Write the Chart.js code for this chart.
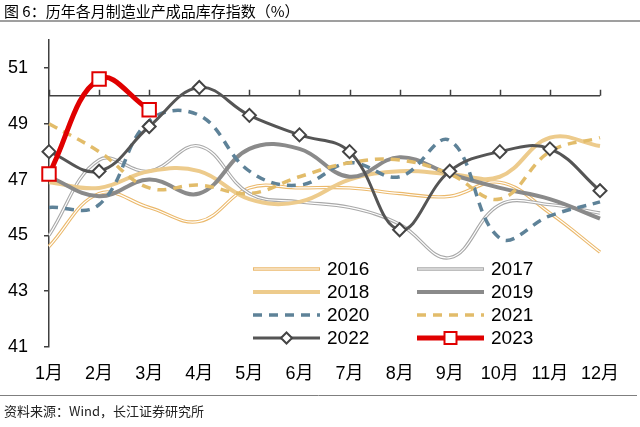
<!DOCTYPE html>
<html lang="zh-CN">
<head>
<meta charset="utf-8">
<script src="https://cdn.jsdelivr.net/npm/chart.js@4.4.0/dist/chart.umd.min.js"></script>
<style>
  html, body { margin: 0; padding: 0; background: #fff; }
  #wrap { width: 640px; height: 427px; }
</style>
</head>
<body>
<div id="wrap"><canvas id="estoqueChart" width="640" height="427"></canvas></div>
<script>
// dados
const meses = ['1月', '2月', '3月', '4月', '5月', '6月', '7月', '8月', '9月', '10月', '11月', '12月'];
const ticksY = [41, 43, 45, 47, 49, 51];
const anos = ['2016', '2017', '2018', '2019', '2020', '2021', '2022', '2023'];
const v2016 = [44.6, 46.5, 46.0, 45.5, 46.7, 46.7, 46.7, 46.5, 46.4, 46.9, 45.8, 44.4];
const v2017 = [45.0, 47.7, 47.3, 48.2, 46.5, 46.2, 46.0, 45.4, 44.2, 46.1, 46.1, 45.8];
const v2018 = [46.9, 46.7, 47.3, 47.3, 46.3, 46.2, 47.0, 47.3, 47.2, 47.1, 48.5, 48.2];
const v2019 = [47.1, 46.4, 47.0, 46.5, 48.1, 48.1, 47.1, 47.8, 47.2, 46.7, 46.3, 45.6];
const v2020 = [46.0, 46.1, 49.1, 49.3, 47.3, 46.8, 47.6, 47.1, 48.4, 44.9, 45.7, 46.2];
const v2021 = [49.0, 48.0, 46.7, 46.8, 46.5, 47.1, 47.6, 47.7, 47.2, 46.3, 48.0, 48.5];
const v2022 = [48.0, 47.3, 48.9, 50.3, 49.3, 48.6, 48.0, 45.2, 47.3, 48.0, 48.1, 46.6];
const v2023 = [47.2, 50.6, 49.5];
const series = [v2016, v2017, v2018, v2019, v2020, v2021, v2022, v2023];

const titulo = '图 6：历年各月制造业产成品库存指数（%）';
const fonte = '资料来源：Wind，长江证券研究所';
const FONT = "'Liberation Sans', 'Noto Sans CJK SC', sans-serif";

// estilo de cada ano (linha dupla = contorno + miolo branco)
const estilos = [
  { cor: '#EBB96C', larg: 3.4, duplo: true },
  { cor: '#A9A9A9', larg: 3.4, duplo: true },
  { cor: '#EDCB8C', larg: 4 },
  { cor: '#8A8A8A', larg: 4 },
  { cor: '#5E8298', larg: 3.5, tracejado: [9, 7] },
  { cor: '#E2BC6A', larg: 3.5, tracejado: [9, 7] },
  { cor: '#555555', larg: 3, ponto: 'rectRot', raio: 6.5, bordaPonto: '#444444' },
  { cor: '#E00000', larg: 5, ponto: 'rect', raio: 9.5, bordaPonto: '#E00000' }
];

// monta os datasets (ano mais recente por cima)
const datasets = [];
series.forEach((dados, i) => {
  const e = estilos[i];
  datasets.push({
    label: anos[i],
    data: dados,
    borderColor: e.cor,
    borderWidth: e.larg,
    borderDash: e.tracejado || [],
    tension: 0.4,
    pointStyle: e.ponto || 'circle',
    pointRadius: e.ponto ? e.raio : 0,
    pointBackgroundColor: '#fff',
    pointBorderColor: e.bordaPonto,
    pointBorderWidth: 2,
    fill: false
  });
  if (e.duplo) {
    datasets.push({
      label: anos[i] + '_miolo',
      data: dados,
      borderColor: '#ffffff',
      borderWidth: 1.2,
      tension: 0.4,
      pointRadius: 0,
      fill: false
    });
  }
});
datasets.forEach((d, i) => { d.order = datasets.length - i; });

// eixo horizontal no valor 50, título, fonte e legenda
const extras = {
  id: 'extras',
  beforeDatasetsDraw(chart) {
    const { ctx, scales: { x, y } } = chart;
    const y50 = y.getPixelForValue(50);
    ctx.save();
    ctx.strokeStyle = '#404040';
    ctx.lineWidth = 1.5;
    ctx.beginPath();
    ctx.moveTo(x.left, y50);
    ctx.lineTo(x.right, y50);
    meses.forEach((m, i) => {
      const px = Math.round(x.getPixelForValue(i)) + 0.5;
      ctx.moveTo(px, y50);
      ctx.lineTo(px, y50 - 6);
    });
    ctx.stroke();
    ctx.restore();
  },
  afterDraw(chart) {
    const { ctx } = chart;
    ctx.save();
    // título
    ctx.fillStyle = '#000';
    ctx.font = "15px 'Noto Sans CJK SC', sans-serif";
    ctx.textBaseline = 'middle';
    ctx.fillText(titulo, 4, 11);
    ctx.strokeStyle = '#7f7f7f';
    ctx.lineWidth = 1.5;
    ctx.beginPath(); ctx.moveTo(0, 21); ctx.lineTo(640, 21); ctx.stroke();
    // rodapé
    ctx.lineWidth = 1;
    ctx.beginPath(); ctx.moveTo(0, 395.5); ctx.lineTo(637, 395.5); ctx.stroke();
    ctx.fillStyle = '#222';
    ctx.font = "13px 'Noto Sans CJK SC', sans-serif";
    ctx.fillText(fonte, 4, 411);

    // legenda em 2 colunas
    ctx.font = '19px ' + FONT;
    anos.forEach((ano, i) => {
      const e = estilos[i];
      const col = i % 2, lin = Math.floor(i / 2);
      const x0 = col === 0 ? 253 : 417;
      const x1 = x0 + 67;
      const yy = 269 + lin * 23;
      ctx.save();
      ctx.strokeStyle = e.cor;
      ctx.lineWidth = e.larg;
      ctx.setLineDash(e.tracejado || []);
      ctx.beginPath(); ctx.moveTo(x0, yy); ctx.lineTo(x1, yy); ctx.stroke();
      if (e.duplo) {
        ctx.strokeStyle = '#fff';
        ctx.lineWidth = 1.2;
        ctx.beginPath(); ctx.moveTo(x0 + 1, yy); ctx.lineTo(x1 - 1, yy); ctx.stroke();
      }
      ctx.setLineDash([]);
      if (e.ponto) {
        const cx = (x0 + x1) / 2;
        ctx.fillStyle = '#fff';
        ctx.strokeStyle = e.bordaPonto;
        ctx.lineWidth = 2;
        ctx.beginPath();
        if (e.ponto === 'rect') {
          ctx.rect(cx - 6, yy - 6, 12, 12);
        } else {
          const r = 5.5;
          ctx.moveTo(cx - r, yy); ctx.lineTo(cx, yy - r); ctx.lineTo(cx + r, yy); ctx.lineTo(cx, yy + r); ctx.closePath();
        }
        ctx.fill(); ctx.stroke();
      }
      ctx.fillStyle = '#000';
      ctx.textBaseline = 'middle';
      ctx.fillText(ano, x1 + 7, yy + 1);
      ctx.restore();
    });
    ctx.restore();
  }
};

const ctxEstoque = document.getElementById('estoqueChart');
new Chart(ctxEstoque, {
  type: 'line',
  data: { labels: meses, datasets: datasets },
  options: {
    responsive: false,
    animation: false,
    layout: { padding: { top: 40, right: 40, bottom: 0, left: 0 } },
    plugins: {
      legend: { display: false },
      tooltip: { enabled: false }
    },
    scales: {
      x: {
        grid: { display: false, drawTicks: false },
        border: { display: false },
        ticks: { color: '#000', font: { size: 18, family: FONT }, padding: 16, maxRotation: 0, autoSkip: false },
        afterFit(scale) { scale.height = 80; }
      },
      y: {
        min: 41,
        max: 52,
        grid: { drawOnChartArea: false, tickLength: 5, color: '#404040', lineWidth: 1.5 },
        border: { color: '#404040', width: 1.5 },
        ticks: { color: '#000', font: { size: 18, family: FONT }, padding: 16 },
        afterBuildTicks(scale) { scale.ticks = ticksY.map(v => ({ value: v })); },
        afterFit(scale) { scale.width = 49; }
      }
    }
  },
  plugins: [extras]
});
</script>
</body>
</html>
